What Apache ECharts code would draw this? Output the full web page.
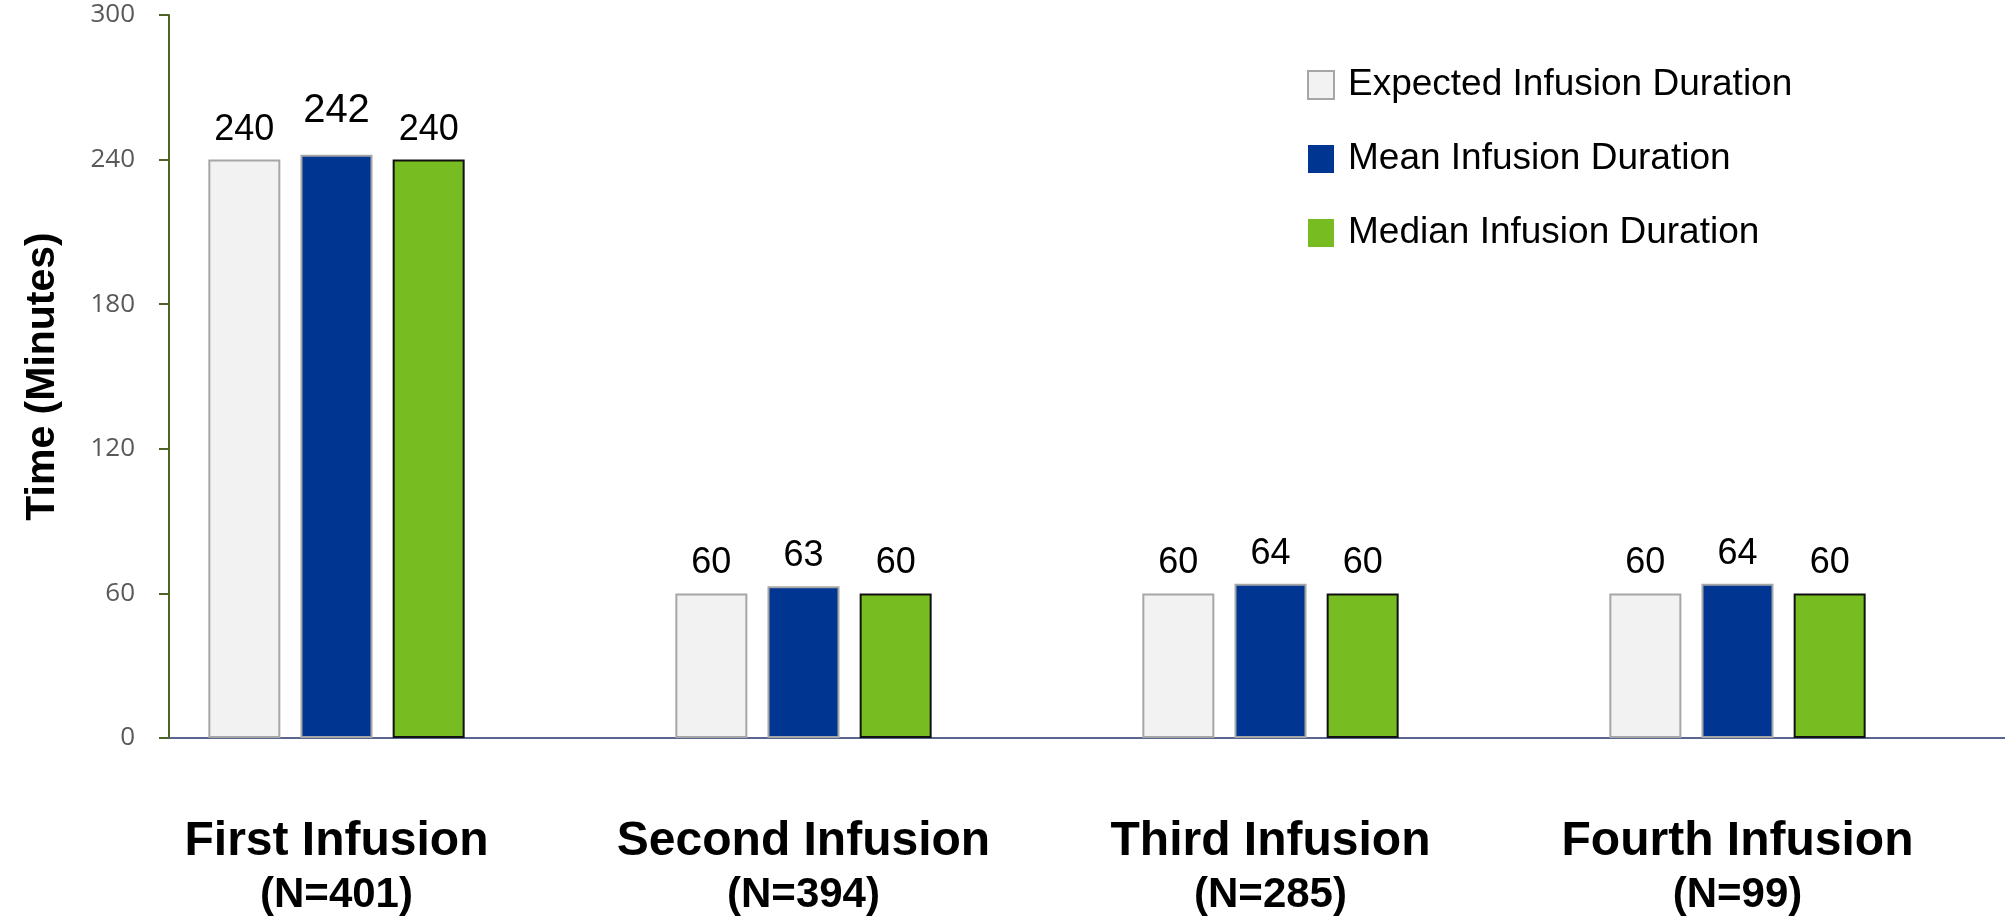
<!DOCTYPE html>
<html>
<head>
<meta charset="utf-8">
<title>Infusion Duration</title>
<script src="https://cdn.jsdelivr.net/npm/echarts@6/dist/echarts.min.js"></script>
<style>
  html, body { margin: 0; padding: 0; background: #ffffff; }
  #chart { width: 2005px; height: 916px; }
</style>
</head>
<body>
<div id="chart"></div>
<script>
// Infusion groups and patient counts
const categories = ['First Infusion', 'Second Infusion', 'Third Infusion', 'Fourth Infusion'];
const patientCounts = ['N=401', 'N=394', 'N=285', 'N=99'];

// Durations in minutes
const expectedValues = [240, 60, 60, 60];
const meanValues = [242, 63, 64, 64];
const medianValues = [240, 60, 60, 60];

// Y axis ticks
const yTicks = [0, 60, 120, 180, 240, 300];

const seriesNames = ['Expected Infusion Duration', 'Mean Infusion Duration', 'Median Infusion Duration'];

const FONT = "'Liberation Sans', Arial, sans-serif";
const Y_MIN = yTicks[0];
const Y_MAX = yTicks[yTicks.length - 1];
const Y_STEP = yTicks[1] - yTicks[0];

const chart = echarts.init(document.getElementById('chart'), null, { renderer: 'canvas' });

const labelBase = {
  show: true,
  position: 'top',
  distance: 12,
  color: '#000000',
  fontFamily: FONT,
  fontSize: 36
};

function barSeries(name, values, fill, border) {
  return {
    name: name,
    type: 'bar',
    xAxisIndex: 0,
    yAxisIndex: 0,
    barWidth: 72,
    barGap: '28%',
    itemStyle: { color: fill, borderColor: border, borderWidth: 2 },
    label: labelBase,
    emphasis: { disabled: true },
    data: values
  };
}

// the mean label of the first group sits a bit larger and higher
const meanData = meanValues.map((v, i) =>
  i === 0 ? { value: v, label: { fontSize: 40, distance: 24 } } : v);

const option = {
  animation: false,
  backgroundColor: '#ffffff',
  grid: [
    // bars and category labels
    { left: 103, right: 34, top: 15, bottom: 178 },
    // visible axis frame
    { left: 169, right: 0, top: 15, bottom: 178 }
  ],
  legend: {
    orient: 'vertical',
    left: 1307,
    top: 65,
    padding: 0,
    itemWidth: 26,
    itemHeight: 28,
    itemGap: 34,
    selectedMode: false,
    textStyle: { fontFamily: FONT, fontSize: 37, color: '#000000', padding: [0, 0, 0, 9], lineHeight: 40 },
    data: [
      { name: seriesNames[0], icon: 'rect', itemStyle: { color: '#f2f2f2', borderColor: '#a6a6a6', borderWidth: 2 } },
      { name: seriesNames[1], icon: 'rect', itemStyle: { color: '#003591', borderWidth: 0 } },
      { name: seriesNames[2], icon: 'rect', itemStyle: { color: '#77bc21', borderWidth: 0 } }
    ]
  },
  xAxis: [
    {
      type: 'category',
      gridIndex: 0,
      data: categories,
      axisLine: { show: false },
      axisTick: { show: false },
      axisLabel: {
        interval: 0,
        margin: 76,
        formatter: (v, i) => '{a|' + v + '}\n{b|(' + patientCounts[i] + ')}',
        rich: {
          a: { fontFamily: FONT, fontWeight: 'bold', fontSize: 48, lineHeight: 56, color: '#000000' },
          b: { fontFamily: FONT, fontWeight: 'bold', fontSize: 42, lineHeight: 50, color: '#000000' }
        }
      }
    },
    {
      type: 'value',
      gridIndex: 1,
      min: 0,
      max: 1,
      axisLine: { show: true, onZero: false, lineStyle: { color: '#5b6690', width: 2 } },
      axisTick: { show: false },
      axisLabel: { show: false },
      splitLine: { show: false }
    }
  ],
  yAxis: [
    {
      type: 'value',
      gridIndex: 0,
      min: Y_MIN,
      max: Y_MAX,
      interval: Y_STEP,
      show: false
    },
    {
      type: 'value',
      gridIndex: 1,
      min: Y_MIN,
      max: Y_MAX,
      interval: Y_STEP,
      name: 'Time (Minutes)',
      nameLocation: 'middle',
      nameRotate: 90,
      nameGap: 106,
      nameTextStyle: { fontFamily: FONT, fontWeight: 'bold', fontSize: 41, color: '#000000' },
      axisLine: { show: true, lineStyle: { color: '#4f6228', width: 2 } },
      axisTick: { show: true, length: 10, lineStyle: { color: '#4f6228', width: 2 } },
      axisLabel: { margin: 34, fontFamily: "'Open Sans', sans-serif", fontSize: 26, color: '#595959' },
      splitLine: { show: false }
    }
  ],
  series: [
    barSeries(seriesNames[0], expectedValues, '#f2f2f2', '#a6a6a6'),
    barSeries(seriesNames[1], meanData, '#003591', '#a6a6a6'),
    barSeries(seriesNames[2], medianValues, '#77bc21', '#111111')
  ]
};

chart.setOption(option);
</script>
</body>
</html>
